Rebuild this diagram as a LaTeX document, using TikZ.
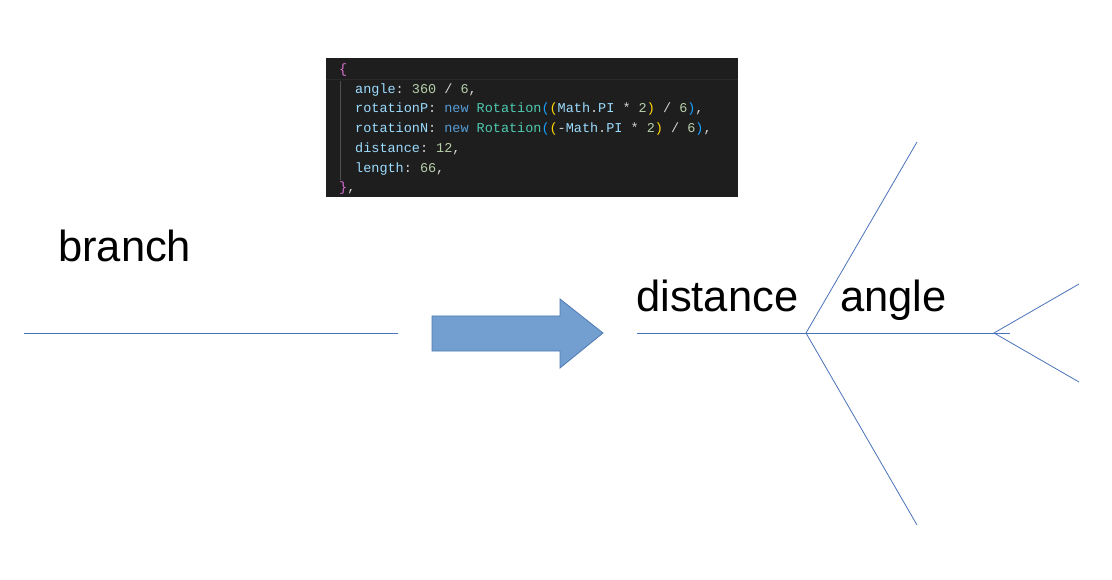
\documentclass[tikz,border=0pt]{standalone}
\usepackage{fontspec}
\setmainfont{Liberation Sans}
\setmonofont{Liberation Mono}
\definecolor{linecol}{HTML}{4A72B8}
\definecolor{arrowfill}{HTML}{729FCF}
\definecolor{arrowdraw}{HTML}{4F7AB5}
\definecolor{codebg}{HTML}{1E1E1E}
\definecolor{codehl}{HTML}{2A2A2A}
\definecolor{guide}{HTML}{505050}
\definecolor{ckey}{HTML}{9CDCFE}
\definecolor{cfg}{HTML}{D4D4D4}
\definecolor{cnum}{HTML}{B5CEA8}
\definecolor{cnew}{HTML}{569CD6}
\definecolor{cclass}{HTML}{4EC9B0}
\definecolor{cgold}{HTML}{FFD700}
\definecolor{cpurple}{HTML}{DA70D6}
\definecolor{cbr}{HTML}{179FFF}
\newcommand{\ck}[1]{\textcolor{ckey}{#1}}
\newcommand{\cf}[1]{\textcolor{cfg}{#1}}
\newcommand{\cn}[1]{\textcolor{cnum}{#1}}
\tikzset{
  big/.style={font=\fontsize{43.5}{50}\selectfont, inner sep=0pt, anchor=base west, text=black},
  codeline/.style={font=\fontsize{13.5}{16}\ttfamily, inner sep=0pt, anchor=base west, text=cfg},
  wire/.style={draw=linecol, line width=0.8pt},
}
\begin{document}
\begin{tikzpicture}[x=1pt,y=-1pt]
\useasboundingbox (0,0) rectangle (1112,580);
% code panel
\fill[codebg] (326,58) rectangle (738,197);
\draw[codehl, line width=1pt] (326,80) -- (738,80);
\draw[guide, line width=0.8pt] (340,81) -- (340,180);
\node[codeline] (c1) at (339,74) {\textcolor{cpurple}{\{}};
\node[codeline] (c2) at (355,94) {\ck{angle}: \cn{360} / \cn{6},};
\node[codeline] (c3) at (355,113) {\ck{rotationP}: \textcolor{cnew}{new} \textcolor{cclass}{Rotation}\textcolor{cbr}{(}\textcolor{cgold}{(}\ck{Math}.\ck{PI} * \cn{2}\textcolor{cgold}{)} / \cn{6}\textcolor{cbr}{)},};
\node[codeline] (c4) at (355,133) {\ck{rotationN}: \textcolor{cnew}{new} \textcolor{cclass}{Rotation}\textcolor{cbr}{(}\textcolor{cgold}{(}-\ck{Math}.\ck{PI} * \cn{2}\textcolor{cgold}{)} / \cn{6}\textcolor{cbr}{)},};
\node[codeline] (c5) at (355,153) {\ck{distance}: \cn{12},};
\node[codeline] (c6) at (355,173) {\ck{length}: \cn{66},};
\node[codeline] (c7) at (339,192) {\textcolor{cpurple}{\}},};
% labels
\node[big] (branch) at (58,262) {branch};
\node[big] (distance) at (636,312) {distance};
\node[big] (angle) at (840,312) {angle};
% left line
\coordinate (l1) at (24,333);
\coordinate (l2) at (398,333);
\draw[wire] (l1) -- (l2);
% block arrow
\filldraw[fill=arrowfill, draw=arrowdraw, line width=0.8pt]
  (432,316) -- (560,316) -- (560,299) -- (603,333) -- (560,368) -- (560,351) -- (432,351) -- cycle;
% right tree
\coordinate (r1) at (637,333);
\coordinate (r2) at (1010,333);
\coordinate (f1) at (806,333);
\coordinate (f1a) at (917,142);
\coordinate (f1b) at (917,525);
\coordinate (f2) at (994,333);
\coordinate (f2a) at (1079,284);
\coordinate (f2b) at (1079,382);
\draw[wire] (r1) -- (r2);
\draw[wire] (f1a) -- (f1) -- (f1b);
\draw[wire] (f2a) -- (f2) -- (f2b);
\end{tikzpicture}
\end{document}
